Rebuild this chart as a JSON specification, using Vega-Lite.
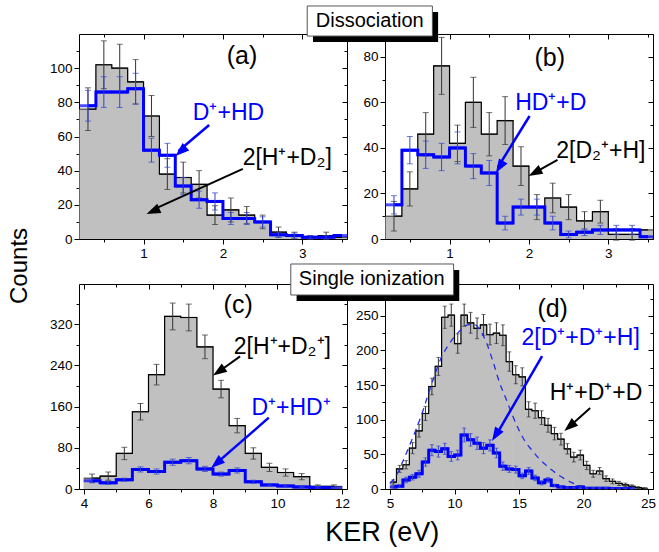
{
"$schema": "https://vega.github.io/schema/vega-lite/v6.json",
"padding": {"left": 8, "top": 5, "right": 2, "bottom": 2},
"config": {"font": "Liberation Sans", "view": {"stroke": null},
  "axis": {"grid": false, "domainColor": "#000", "tickColor": "#000", "labelColor": "#000", "labelFontSize": 13.5, "domainWidth": 1, "tickWidth": 1, "labelFont": "Liberation Sans", "labelOverlap": false, "labelFlush": false}},
"datasets": {
"a_gray": [{"x":0.3,"y":76,"e":12.5},{"x":0.5,"y":102,"e":14},{"x":0.7,"y":100,"e":14},{"x":0.9,"y":92,"e":13},{"x":1.1,"y":72,"e":12},{"x":1.3,"y":38,"e":9},{"x":1.5,"y":36,"e":9},{"x":1.7,"y":32,"e":8},{"x":1.9,"y":14,"e":5.5},{"x":2.1,"y":17,"e":7},{"x":2.3,"y":14,"e":5},{"x":2.5,"y":10,"e":4},{"x":2.7,"y":4,"e":3},{"x":2.9,"y":2,"e":2},{"x":3.1,"y":1,"e":1},{"x":3.3,"y":2,"e":2},{"x":3.5,"y":1,"e":1}],
"a_blue": [{"x":0.3,"y":78,"e":9},{"x":0.5,"y":86,"e":9},{"x":0.7,"y":86,"e":9},{"x":0.9,"y":88,"e":9},{"x":1.1,"y":52,"e":7},{"x":1.3,"y":49,"e":7},{"x":1.5,"y":31,"e":5},{"x":1.7,"y":23,"e":5},{"x":1.9,"y":22,"e":5},{"x":2.1,"y":12,"e":3.5},{"x":2.3,"y":12,"e":3.5},{"x":2.5,"y":10,"e":3},{"x":2.7,"y":2.5,"e":1.5},{"x":2.9,"y":2,"e":1.5},{"x":3.1,"y":1,"e":1},{"x":3.3,"y":1,"e":1},{"x":3.5,"y":2,"e":1}],
"b_gray": [{"x":0.3,"y":10,"e":6.5},{"x":0.5,"y":22,"e":7.5},{"x":0.7,"y":46,"e":9.5},{"x":0.9,"y":76,"e":12.5},{"x":1.1,"y":42,"e":8},{"x":1.3,"y":60,"e":11},{"x":1.5,"y":46,"e":9.5},{"x":1.7,"y":52,"e":10.5},{"x":1.9,"y":32,"e":8.5},{"x":2.1,"y":14,"e":5.5},{"x":2.3,"y":18,"e":6.5},{"x":2.5,"y":14,"e":5.5},{"x":2.7,"y":8,"e":4},{"x":2.9,"y":12,"e":5},{"x":3.1,"y":2,"e":2.5},{"x":3.3,"y":2,"e":2.5},{"x":3.5,"y":4,"e":2}],
"b_blue": [{"x":0.3,"y":15,"e":4},{"x":0.5,"y":39,"e":6},{"x":0.7,"y":37,"e":6},{"x":0.9,"y":36,"e":6},{"x":1.1,"y":40,"e":7},{"x":1.3,"y":32,"e":5.5},{"x":1.5,"y":29,"e":5.5},{"x":1.7,"y":7,"e":3},{"x":1.9,"y":14,"e":3.5},{"x":2.1,"y":14,"e":3.5},{"x":2.3,"y":7,"e":3},{"x":2.5,"y":2,"e":1.5},{"x":2.7,"y":3,"e":1.5},{"x":2.9,"y":4,"e":2},{"x":3.1,"y":4,"e":2},{"x":3.3,"y":4,"e":2},{"x":3.5,"y":1,"e":1}],
"c_gray": [{"x":4.25,"y":21,"e":8},{"x":4.75,"y":25,"e":8},{"x":5.25,"y":69,"e":12},{"x":5.75,"y":150,"e":16},{"x":6.25,"y":222,"e":20},{"x":6.75,"y":335,"e":26},{"x":7.25,"y":333,"e":26},{"x":7.75,"y":276,"e":23},{"x":8.25,"y":194,"e":17},{"x":8.75,"y":123,"e":14},{"x":9.25,"y":69,"e":11},{"x":9.75,"y":42,"e":8},{"x":10.25,"y":32,"e":7},{"x":10.75,"y":24,"e":6},{"x":11.25,"y":5,"e":3},{"x":11.75,"y":5,"e":3}],
"c_blue": [{"x":4.25,"y":16,"e":4},{"x":4.75,"y":12,"e":3},{"x":5.25,"y":18,"e":3},{"x":5.75,"y":38,"e":5},{"x":6.25,"y":34,"e":5},{"x":6.75,"y":52,"e":6},{"x":7.25,"y":55,"e":6},{"x":7.75,"y":39,"e":5},{"x":8.25,"y":29,"e":4},{"x":8.75,"y":36,"e":5},{"x":9.25,"y":14,"e":3},{"x":9.75,"y":8,"e":2},{"x":10.25,"y":6,"e":2},{"x":10.75,"y":4,"e":1.5},{"x":11.25,"y":3,"e":1.5},{"x":11.75,"y":2,"e":1}],
"d_gray": [{"x":5.25,"y":10,"e":3},{"x":5.75,"y":29,"e":5},{"x":6.25,"y":35,"e":6},{"x":6.75,"y":59,"e":8},{"x":7.25,"y":84,"e":9},{"x":7.75,"y":109,"e":10},{"x":8.25,"y":148,"e":12},{"x":8.75,"y":177,"e":13},{"x":9.25,"y":248,"e":16},{"x":9.75,"y":251,"e":16},{"x":10.25,"y":210,"e":14},{"x":10.75,"y":251,"e":16},{"x":11.25,"y":240,"e":15},{"x":11.75,"y":232,"e":15},{"x":12.25,"y":237,"e":15},{"x":12.75,"y":223,"e":15},{"x":13.25,"y":225,"e":15},{"x":13.75,"y":222,"e":15},{"x":14.25,"y":184,"e":14},{"x":14.75,"y":165,"e":13},{"x":15.25,"y":162,"e":13},{"x":15.75,"y":115,"e":11},{"x":16.25,"y":113,"e":11},{"x":16.75,"y":103,"e":10},{"x":17.25,"y":92,"e":10},{"x":17.75,"y":80,"e":9},{"x":18.25,"y":72,"e":8.5},{"x":18.75,"y":58,"e":7.5},{"x":19.25,"y":46,"e":7},{"x":19.75,"y":49,"e":7},{"x":20.25,"y":34,"e":6},{"x":20.75,"y":22,"e":5},{"x":21.25,"y":26,"e":5},{"x":21.75,"y":15,"e":4},{"x":22.25,"y":11,"e":3.5},{"x":22.75,"y":8,"e":3},{"x":23.25,"y":6,"e":2.5},{"x":23.75,"y":4,"e":2},{"x":24.25,"y":2,"e":1.5},{"x":24.75,"y":1,"e":1}],
"d_blue": [{"x":5.25,"y":3,"e":1.5},{"x":5.75,"y":4,"e":2},{"x":6.25,"y":13,"e":4},{"x":6.75,"y":17,"e":4},{"x":7.25,"y":22,"e":5},{"x":7.75,"y":39,"e":6},{"x":8.25,"y":56,"e":8},{"x":8.75,"y":54,"e":8},{"x":9.25,"y":58,"e":8},{"x":9.75,"y":47,"e":7},{"x":10.25,"y":49,"e":7},{"x":10.75,"y":78,"e":10},{"x":11.25,"y":71,"e":9},{"x":11.75,"y":66,"e":9},{"x":12.25,"y":59,"e":8},{"x":12.75,"y":63,"e":8},{"x":13.25,"y":52,"e":7},{"x":13.75,"y":33,"e":6},{"x":14.25,"y":29,"e":5},{"x":14.75,"y":28,"e":5},{"x":15.25,"y":19,"e":4},{"x":15.75,"y":26,"e":5},{"x":16.25,"y":16,"e":4},{"x":16.75,"y":9,"e":3},{"x":17.25,"y":13,"e":3.5},{"x":17.75,"y":5,"e":2},{"x":18.25,"y":3,"e":1.5},{"x":18.75,"y":2,"e":1},{"x":19.25,"y":2,"e":1},{"x":19.75,"y":3,"e":1.5},{"x":20.25,"y":1,"e":1},{"x":20.75,"y":1,"e":1},{"x":21.25,"y":1,"e":1},{"x":21.75,"y":1,"e":1},{"x":22.25,"y":0.5,"e":0.5},{"x":22.75,"y":0.5,"e":0.5},{"x":23.25,"y":0.5,"e":0.5},{"x":23.75,"y":0.5,"e":0.5}],
"d_fit": [{"x":5.0,"y":8},{"x":5.5,"y":20},{"x":6.0,"y":40},{"x":6.5,"y":62},{"x":7.0,"y":85},{"x":7.5,"y":110},{"x":8.0,"y":139},{"x":8.5,"y":166},{"x":9.0,"y":191},{"x":9.5,"y":207},{"x":10.0,"y":220},{"x":10.5,"y":230},{"x":11.0,"y":237},{"x":11.5,"y":238},{"x":12.0,"y":229},{"x":12.5,"y":210},{"x":13.0,"y":183},{"x":13.5,"y":153},{"x":14.0,"y":130},{"x":14.5,"y":106},{"x":15.0,"y":85},{"x":15.5,"y":68},{"x":16.0,"y":56},{"x":16.5,"y":45},{"x":17.0,"y":36},{"x":17.5,"y":28},{"x":18.0,"y":21},{"x":18.5,"y":15},{"x":19.0,"y":10},{"x":19.5,"y":6},{"x":20.0,"y":3},{"x":20.5,"y":1.5},{"x":21.0,"y":0.5}]
},
"columns": 2,
"spacing": {"row": 45, "column": 38},
"bounds": "flush",
"concat": [
{"width": 268, "height": 205,
 "resolve": {"axis": {"x": "independent", "y": "independent"}},
 "layer": [
  {"data": {"name": "a_gray"}, "mark": {"type": "bar", "width": 17, "color": "#c0c0c0", "clip": true},
   "encoding": {"x": {"field": "x", "type": "quantitative", "scale": {"domain": [0.25, 3.5], "nice": false, "zero": false},
      "axis": {"orient": "bottom", "title": null, "values": [0.5,1,1.5,2,2.5,3,3.5], "labelExpr": "datum.value % 1 === 0 ? format(datum.value,'d') : ''", "tickSize": {"condition": {"test": "datum.value % 1 === 0", "value": 5}, "value": 3}}},
    "y": {"field": "y", "type": "quantitative", "scale": {"domain": [0, 120], "nice": false},
      "axis": {"orient": "left", "title": null, "values": [0,10,20,30,40,50,60,70,80,90,100,110], "labelExpr": "datum.value % 20 === 0 ? format(datum.value,'d') : ''", "tickSize": {"condition": {"test": "datum.value % 20 === 0", "value": 5}, "value": 3}}}}},
  {"data": {"name": "a_gray"}, "mark": {"type": "line", "interpolate": "step", "color": "#000", "strokeWidth": 1.2, "clip": true},
   "encoding": {"x": {"field": "x", "type": "quantitative", "axis": {"orient": "top", "title": null, "labels": false, "values": [0.5,1,1.5,2,2.5,3,3.5], "tickSize": {"condition": {"test": "datum.value % 1 === 0", "value": -5}, "value": -3}}},
    "y": {"field": "y", "type": "quantitative", "axis": {"orient": "right", "title": null, "labels": false, "values": [0,10,20,30,40,50,60,70,80,90,100,110], "tickSize": {"condition": {"test": "datum.value % 20 === 0", "value": -5}, "value": -3}}}}},
  {"data": {"name": "a_gray"}, "mark": {"type": "tick", "orient": "horizontal", "size": 16.5, "thickness": 1.2, "color": "#000", "clip": true},
   "encoding": {"x": {"field": "x", "type": "quantitative", "axis": null}, "y": {"field": "y", "type": "quantitative", "axis": null}}},
  {"data": {"name": "a_gray"}, "transform": [{"filter": "datum.x < 3.45"}], "mark": {"type": "errorbar", "color": "#333", "ticks": {"size": 6}},
   "encoding": {"x": {"field": "x", "type": "quantitative", "axis": null}, "y": {"field": "y", "type": "quantitative", "axis": null}, "yError": {"field": "e"}}},
  {"data": {"name": "a_blue"}, "mark": {"type": "line", "interpolate": "step", "color": "#0000ff", "strokeWidth": 3, "clip": true},
   "encoding": {"x": {"field": "x", "type": "quantitative", "axis": null}, "y": {"field": "y", "type": "quantitative", "axis": null}}},
  {"data": {"name": "a_blue"}, "mark": {"type": "tick", "orient": "horizontal", "size": 16.5, "thickness": 3, "color": "#0000ff", "clip": true},
   "encoding": {"x": {"field": "x", "type": "quantitative", "axis": null}, "y": {"field": "y", "type": "quantitative", "axis": null}}},
  {"data": {"name": "a_blue"}, "transform": [{"filter": "datum.x < 3.45"}], "mark": {"type": "errorbar", "color": "#3344cc", "ticks": {"size": 6}},
   "encoding": {"x": {"field": "x", "type": "quantitative", "axis": null}, "y": {"field": "y", "type": "quantitative", "axis": null}, "yError": {"field": "e"}}},
  {"data": {"values": [{}]}, "mark": {"type": "text", "text": "(a)", "fontSize": 25, "align": "center", "baseline": "middle"},
   "encoding": {"x": {"datum": 2.24, "type": "quantitative", "axis": null}, "y": {"datum": 107, "type": "quantitative", "axis": null}}},
  {"data": {"values": [{}]}, "mark": {"type": "text", "text": "D⁺+HD", "fontSize": 23, "color": "#0000ff", "align": "center", "baseline": "middle"},
   "encoding": {"x": {"datum": 2.07, "type": "quantitative", "axis": null}, "y": {"datum": 73.7, "type": "quantitative", "axis": null}}},
  {"data": {"values": [{}]}, "mark": {"type": "text", "text": "2[H⁺+D₂]", "fontSize": 23, "color": "#000", "align": "center", "baseline": "middle"},
   "encoding": {"x": {"datum": 2.81, "type": "quantitative", "axis": null}, "y": {"datum": 47.4, "type": "quantitative", "axis": null}}},
  {"data": {"values": [{}]}, "mark": {"type": "rule", "color": "#0000ff", "strokeWidth": 2.5},
   "encoding": {"x": {"datum": 1.827, "type": "quantitative", "axis": null}, "y": {"datum": 66.7, "type": "quantitative", "axis": null}, "x2": {"datum": 1.44}, "y2": {"datum": 51.5}}},
  {"data": {"values": [{}]}, "mark": {"type": "point", "shape": "M0,0L-0.5,1.4L0.5,1.4Z", "filled": true, "opacity": 1, "color": "#0000ff", "size": 400, "angle": 228.5},
   "encoding": {"x": {"datum": 1.402, "type": "quantitative", "axis": null}, "y": {"datum": 48.6, "type": "quantitative", "axis": null}}},
  {"data": {"values": [{}]}, "mark": {"type": "rule", "color": "#000", "strokeWidth": 2},
   "encoding": {"x": {"datum": 2.251, "type": "quantitative", "axis": null}, "y": {"datum": 41.0, "type": "quantitative", "axis": null}, "x2": {"datum": 1.1}, "y2": {"datum": 16.8}}},
  {"data": {"values": [{}]}, "mark": {"type": "point", "shape": "M0,0L-0.5,1.4L0.5,1.4Z", "filled": true, "opacity": 1, "color": "#000", "size": 400, "angle": 245.8},
   "encoding": {"x": {"datum": 1.038, "type": "quantitative", "axis": null}, "y": {"datum": 14.6, "type": "quantitative", "axis": null}}}
 ]},
{"width": 268, "height": 205,
 "resolve": {"axis": {"x": "independent", "y": "independent"}},
 "layer": [
  {"data": {"name": "b_gray"}, "mark": {"type": "bar", "width": 17, "color": "#c0c0c0", "clip": true},
   "encoding": {"x": {"field": "x", "type": "quantitative", "scale": {"domain": [0.25, 3.5], "nice": false, "zero": false},
      "axis": {"orient": "bottom", "title": null, "values": [0.5,1,1.5,2,2.5,3,3.5], "labelExpr": "datum.value % 1 === 0 ? format(datum.value,'d') : ''", "tickSize": {"condition": {"test": "datum.value % 1 === 0", "value": 5}, "value": 3}}},
    "y": {"field": "y", "type": "quantitative", "scale": {"domain": [0, 90], "nice": false},
      "axis": {"orient": "left", "title": null, "values": [0,10,20,30,40,50,60,70,80,90], "labelExpr": "datum.value % 20 === 0 ? format(datum.value,'d') : ''", "tickSize": {"condition": {"test": "datum.value % 20 === 0", "value": 5}, "value": 3}}}}},
  {"data": {"name": "b_gray"}, "mark": {"type": "line", "interpolate": "step", "color": "#000", "strokeWidth": 1.2, "clip": true},
   "encoding": {"x": {"field": "x", "type": "quantitative", "axis": {"orient": "top", "title": null, "labels": false, "values": [0.5,1,1.5,2,2.5,3,3.5], "tickSize": {"condition": {"test": "datum.value % 1 === 0", "value": -5}, "value": -3}}},
    "y": {"field": "y", "type": "quantitative", "axis": {"orient": "right", "title": null, "labels": false, "values": [0,10,20,30,40,50,60,70,80,90], "tickSize": {"condition": {"test": "datum.value % 20 === 0", "value": -5}, "value": -3}}}}},
  {"data": {"name": "b_gray"}, "mark": {"type": "tick", "orient": "horizontal", "size": 16.5, "thickness": 1.2, "color": "#000", "clip": true},
   "encoding": {"x": {"field": "x", "type": "quantitative", "axis": null}, "y": {"field": "y", "type": "quantitative", "axis": null}}},
  {"data": {"name": "b_gray"}, "transform": [{"filter": "datum.x < 3.45"}], "mark": {"type": "errorbar", "color": "#333", "ticks": {"size": 6}},
   "encoding": {"x": {"field": "x", "type": "quantitative", "axis": null}, "y": {"field": "y", "type": "quantitative", "axis": null}, "yError": {"field": "e"}}},
  {"data": {"name": "b_blue"}, "mark": {"type": "line", "interpolate": "step", "color": "#0000ff", "strokeWidth": 3, "clip": true},
   "encoding": {"x": {"field": "x", "type": "quantitative", "axis": null}, "y": {"field": "y", "type": "quantitative", "axis": null}}},
  {"data": {"name": "b_blue"}, "mark": {"type": "tick", "orient": "horizontal", "size": 16.5, "thickness": 3, "color": "#0000ff", "clip": true},
   "encoding": {"x": {"field": "x", "type": "quantitative", "axis": null}, "y": {"field": "y", "type": "quantitative", "axis": null}}},
  {"data": {"name": "b_blue"}, "transform": [{"filter": "datum.x < 3.45"}], "mark": {"type": "errorbar", "color": "#3344cc", "ticks": {"size": 6}},
   "encoding": {"x": {"field": "x", "type": "quantitative", "axis": null}, "y": {"field": "y", "type": "quantitative", "axis": null}, "yError": {"field": "e"}}},
  {"data": {"values": [{}]}, "mark": {"type": "text", "text": "(b)", "fontSize": 25, "align": "center", "baseline": "middle"},
   "encoding": {"x": {"datum": 2.263, "type": "quantitative", "axis": null}, "y": {"datum": 79.5, "type": "quantitative", "axis": null}}},
  {"data": {"values": [{}]}, "mark": {"type": "text", "text": "HD⁺+D", "fontSize": 23, "color": "#0000ff", "align": "center", "baseline": "middle"},
   "encoding": {"x": {"datum": 2.275, "type": "quantitative", "axis": null}, "y": {"datum": 59.7, "type": "quantitative", "axis": null}}},
  {"data": {"values": [{}]}, "mark": {"type": "text", "text": "2[D₂⁺+H]", "fontSize": 23, "color": "#000", "align": "center", "baseline": "middle"},
   "encoding": {"x": {"datum": 2.906, "type": "quantitative", "axis": null}, "y": {"datum": 38.6, "type": "quantitative", "axis": null}}},
  {"data": {"values": [{}]}, "mark": {"type": "rule", "color": "#0000ff", "strokeWidth": 2.5},
   "encoding": {"x": {"datum": 2.008, "type": "quantitative", "axis": null}, "y": {"datum": 54.0, "type": "quantitative", "axis": null}, "x2": {"datum": 1.61}, "y2": {"datum": 31.5}}},
  {"data": {"values": [{}]}, "mark": {"type": "point", "shape": "M0,0L-0.5,1.4L0.5,1.4Z", "filled": true, "opacity": 1, "color": "#0000ff", "size": 400, "angle": 211.5},
   "encoding": {"x": {"datum": 1.584, "type": "quantitative", "axis": null}, "y": {"datum": 29.0, "type": "quantitative", "axis": null}}},
  {"data": {"values": [{}]}, "mark": {"type": "rule", "color": "#000", "strokeWidth": 2},
   "encoding": {"x": {"datum": 2.36, "type": "quantitative", "axis": null}, "y": {"datum": 34.7, "type": "quantitative", "axis": null}, "x2": {"datum": 2.05}, "y2": {"datum": 28.7}}},
  {"data": {"values": [{}]}, "mark": {"type": "point", "shape": "M0,0L-0.5,1.4L0.5,1.4Z", "filled": true, "opacity": 1, "color": "#000", "size": 400, "angle": 242},
   "encoding": {"x": {"datum": 1.996, "type": "quantitative", "axis": null}, "y": {"datum": 27.7, "type": "quantitative", "axis": null}}},
  {"data": {"values": [{}]}, "mark": {"type": "rect", "color": "#000"},
   "encoding": {"x": {"datum": -0.72, "type": "quantitative", "axis": null}, "x2": {"datum": 0.856}, "y": {"datum": 99.7, "type": "quantitative", "axis": null}, "y2": {"datum": 86.5}}},
  {"data": {"values": [{}]}, "mark": {"type": "rect", "fill": "#fff", "stroke": "#555", "strokeWidth": 1},
   "encoding": {"x": {"datum": -0.793, "type": "quantitative", "axis": null}, "x2": {"datum": 0.784}, "y": {"datum": 102.3, "type": "quantitative", "axis": null}, "y2": {"datum": 89.1}}},
  {"data": {"values": [{}]}, "mark": {"type": "text", "text": "Dissociation", "fontSize": 20, "align": "center", "baseline": "middle"},
   "encoding": {"x": {"datum": -0.005, "type": "quantitative", "axis": null}, "y": {"datum": 95.7, "type": "quantitative", "axis": null}}}
 ]},
{"width": 268, "height": 205,
 "resolve": {"axis": {"x": "independent", "y": "independent"}},
 "layer": [
  {"data": {"name": "c_gray"}, "mark": {"type": "bar", "width": 17.2, "color": "#c0c0c0", "clip": true},
   "encoding": {"x": {"field": "x", "type": "quantitative", "scale": {"domain": [4, 12], "nice": false, "zero": false},
      "axis": {"orient": "bottom", "title": null, "values": [4,5,6,7,8,9,10,11,12], "labelExpr": "datum.value % 2 === 0 ? format(datum.value,'d') : ''", "tickSize": {"condition": {"test": "datum.value % 2 === 0", "value": 5}, "value": 3}}},
    "y": {"field": "y", "type": "quantitative", "scale": {"domain": [0, 398], "nice": false},
      "axis": {"orient": "left", "title": null, "values": [0,40,80,120,160,200,240,280,320,360], "labelExpr": "datum.value % 80 === 0 ? format(datum.value,'d') : ''", "tickSize": {"condition": {"test": "datum.value % 80 === 0", "value": 5}, "value": 3}}}}},
  {"data": {"name": "c_gray"}, "mark": {"type": "line", "interpolate": "step", "color": "#000", "strokeWidth": 1.2, "clip": true},
   "encoding": {"x": {"field": "x", "type": "quantitative", "axis": {"orient": "top", "title": null, "labels": false, "values": [4,5,6,7,8,9,10,11,12], "tickSize": {"condition": {"test": "datum.value % 2 === 0", "value": -5}, "value": -3}}},
    "y": {"field": "y", "type": "quantitative", "axis": {"orient": "right", "title": null, "labels": false, "values": [0,40,80,120,160,200,240,280,320,360], "tickSize": {"condition": {"test": "datum.value % 80 === 0", "value": -5}, "value": -3}}}}},
  {"data": {"name": "c_gray"}, "mark": {"type": "tick", "orient": "horizontal", "size": 16.75, "thickness": 1.2, "color": "#000", "clip": true},
   "encoding": {"x": {"field": "x", "type": "quantitative", "axis": null}, "y": {"field": "y", "type": "quantitative", "axis": null}}},
  {"data": {"name": "c_gray"}, "mark": {"type": "errorbar", "color": "#333", "ticks": {"size": 6}},
   "encoding": {"x": {"field": "x", "type": "quantitative", "axis": null}, "y": {"field": "y", "type": "quantitative", "axis": null}, "yError": {"field": "e"}}},
  {"data": {"name": "c_blue"}, "mark": {"type": "line", "interpolate": "step", "color": "#0000ff", "strokeWidth": 3, "clip": true},
   "encoding": {"x": {"field": "x", "type": "quantitative", "axis": null}, "y": {"field": "y", "type": "quantitative", "axis": null}}},
  {"data": {"name": "c_blue"}, "mark": {"type": "tick", "orient": "horizontal", "size": 16.75, "thickness": 3, "color": "#0000ff", "clip": true},
   "encoding": {"x": {"field": "x", "type": "quantitative", "axis": null}, "y": {"field": "y", "type": "quantitative", "axis": null}}},
  {"data": {"name": "c_blue"}, "mark": {"type": "errorbar", "color": "#3344cc", "ticks": {"size": 6}},
   "encoding": {"x": {"field": "x", "type": "quantitative", "axis": null}, "y": {"field": "y", "type": "quantitative", "axis": null}, "yError": {"field": "e"}}},
  {"data": {"values": [{}]}, "mark": {"type": "text", "text": "(c)", "fontSize": 25, "align": "center", "baseline": "middle"},
   "encoding": {"x": {"datum": 8.78, "type": "quantitative", "axis": null}, "y": {"datum": 357, "type": "quantitative", "axis": null}}},
  {"data": {"values": [{}]}, "mark": {"type": "text", "text": "2[H⁺+D₂⁺]", "fontSize": 23, "color": "#000", "align": "center", "baseline": "middle"},
   "encoding": {"x": {"datum": 10.15, "type": "quantitative", "axis": null}, "y": {"datum": 275, "type": "quantitative", "axis": null}}},
  {"data": {"values": [{}]}, "mark": {"type": "text", "text": "D⁺+HD⁺", "fontSize": 23, "color": "#0000ff", "align": "center", "baseline": "middle"},
   "encoding": {"x": {"datum": 10.42, "type": "quantitative", "axis": null}, "y": {"datum": 158, "type": "quantitative", "axis": null}}},
  {"data": {"values": [{}]}, "mark": {"type": "rule", "color": "#000", "strokeWidth": 2},
   "encoding": {"x": {"datum": 8.84, "type": "quantitative", "axis": null}, "y": {"datum": 257.6, "type": "quantitative", "axis": null}, "x2": {"datum": 8.25}, "y2": {"datum": 231}}},
  {"data": {"values": [{}]}, "mark": {"type": "point", "shape": "M0,0L-0.5,1.4L0.5,1.4Z", "filled": true, "opacity": 1, "color": "#000", "size": 400, "angle": 235.9},
   "encoding": {"x": {"datum": 8.0, "type": "quantitative", "axis": null}, "y": {"datum": 220.5, "type": "quantitative", "axis": null}}},
  {"data": {"values": [{}]}, "mark": {"type": "rule", "color": "#0000ff", "strokeWidth": 2.5},
   "encoding": {"x": {"datum": 9.73, "type": "quantitative", "axis": null}, "y": {"datum": 138.5, "type": "quantitative", "axis": null}, "x2": {"datum": 8.2}, "y2": {"datum": 55}}},
  {"data": {"values": [{}]}, "mark": {"type": "point", "shape": "M0,0L-0.5,1.4L0.5,1.4Z", "filled": true, "opacity": 1, "color": "#0000ff", "size": 400, "angle": 230.2},
   "encoding": {"x": {"datum": 7.94, "type": "quantitative", "axis": null}, "y": {"datum": 41, "type": "quantitative", "axis": null}}},
  {"data": {"values": [{}]}, "mark": {"type": "text", "text": "Counts", "fontSize": 24, "angle": 270, "align": "center", "baseline": "middle"},
   "encoding": {"x": {"datum": 2.03, "type": "quantitative", "axis": null}, "y": {"datum": 433, "type": "quantitative", "axis": null}}}
 ]},
{"width": 268, "height": 205,
 "resolve": {"axis": {"x": "independent", "y": "independent"}},
 "layer": [
  {"data": {"name": "d_gray"}, "mark": {"type": "bar", "width": 7.1, "color": "#c0c0c0", "clip": true},
   "encoding": {"x": {"field": "x", "type": "quantitative", "scale": {"domain": [5, 25], "nice": false, "zero": false},
      "axis": {"orient": "bottom", "title": null, "values": [5,7.5,10,12.5,15,17.5,20,22.5,25], "labelExpr": "datum.value % 5 === 0 ? format(datum.value,'d') : ''", "tickSize": {"condition": {"test": "datum.value % 5 === 0", "value": 5}, "value": 3}}},
    "y": {"field": "y", "type": "quantitative", "scale": {"domain": [0, 296], "nice": false},
      "axis": {"orient": "left", "title": null, "values": [0,25,50,75,100,125,150,175,200,225,250,275], "labelExpr": "datum.value % 50 === 0 ? format(datum.value,'d') : ''", "tickSize": {"condition": {"test": "datum.value % 50 === 0", "value": 5}, "value": 3}}}}},
  {"data": {"name": "d_gray"}, "mark": {"type": "line", "interpolate": "step", "color": "#000", "strokeWidth": 1.2, "clip": true},
   "encoding": {"x": {"field": "x", "type": "quantitative", "axis": {"orient": "top", "title": null, "labels": false, "values": [5,7.5,10,12.5,15,17.5,20,22.5,25], "tickSize": {"condition": {"test": "datum.value % 5 === 0", "value": -5}, "value": -3}}},
    "y": {"field": "y", "type": "quantitative", "axis": {"orient": "right", "title": null, "labels": false, "values": [0,25,50,75,100,125,150,175,200,225,250,275], "tickSize": {"condition": {"test": "datum.value % 50 === 0", "value": -5}, "value": -3}}}}},
  {"data": {"name": "d_gray"}, "mark": {"type": "tick", "orient": "horizontal", "size": 6.7, "thickness": 1.2, "color": "#000", "clip": true},
   "encoding": {"x": {"field": "x", "type": "quantitative", "axis": null}, "y": {"field": "y", "type": "quantitative", "axis": null}}},
  {"data": {"name": "d_gray"}, "mark": {"type": "errorbar", "color": "#333", "ticks": {"size": 4}},
   "encoding": {"x": {"field": "x", "type": "quantitative", "axis": null}, "y": {"field": "y", "type": "quantitative", "axis": null}, "yError": {"field": "e"}}},
  {"data": {"name": "d_fit"}, "mark": {"type": "line", "interpolate": "monotone", "color": "#1f2fe0", "strokeWidth": 1.3, "strokeDash": [6, 5], "clip": true},
   "encoding": {"x": {"field": "x", "type": "quantitative", "axis": null}, "y": {"field": "y", "type": "quantitative", "axis": null}}},
  {"data": {"name": "d_blue"}, "mark": {"type": "line", "interpolate": "step", "color": "#0000ff", "strokeWidth": 3, "clip": true},
   "encoding": {"x": {"field": "x", "type": "quantitative", "axis": null}, "y": {"field": "y", "type": "quantitative", "axis": null}}},
  {"data": {"name": "d_blue"}, "mark": {"type": "tick", "orient": "horizontal", "size": 6.7, "thickness": 3, "color": "#0000ff", "clip": true},
   "encoding": {"x": {"field": "x", "type": "quantitative", "axis": null}, "y": {"field": "y", "type": "quantitative", "axis": null}}},
  {"data": {"name": "d_blue"}, "mark": {"type": "errorbar", "color": "#3344cc", "ticks": {"size": 4}},
   "encoding": {"x": {"field": "x", "type": "quantitative", "axis": null}, "y": {"field": "y", "type": "quantitative", "axis": null}, "yError": {"field": "e"}}},
  {"data": {"values": [{}]}, "mark": {"type": "text", "text": "(d)", "fontSize": 25, "align": "center", "baseline": "middle"},
   "encoding": {"x": {"datum": 17.61, "type": "quantitative", "axis": null}, "y": {"datum": 260, "type": "quantitative", "axis": null}}},
  {"data": {"values": [{}]}, "mark": {"type": "text", "text": "2[D⁺+D⁺+H]", "fontSize": 23, "color": "#0000ff", "align": "center", "baseline": "middle"},
   "encoding": {"x": {"datum": 19.78, "type": "quantitative", "axis": null}, "y": {"datum": 218, "type": "quantitative", "axis": null}}},
  {"data": {"values": [{}]}, "mark": {"type": "text", "text": "H⁺+D⁺+D", "fontSize": 23, "color": "#000", "align": "center", "baseline": "middle"},
   "encoding": {"x": {"datum": 20.97, "type": "quantitative", "axis": null}, "y": {"datum": 138.6, "type": "quantitative", "axis": null}}},
  {"data": {"values": [{}]}, "mark": {"type": "rule", "color": "#0000ff", "strokeWidth": 2.5},
   "encoding": {"x": {"datum": 16.79, "type": "quantitative", "axis": null}, "y": {"datum": 192, "type": "quantitative", "axis": null}, "x2": {"datum": 13.3}, "y2": {"datum": 80}}},
  {"data": {"values": [{}]}, "mark": {"type": "point", "shape": "M0,0L-0.5,1.4L0.5,1.4Z", "filled": true, "opacity": 1, "color": "#0000ff", "size": 400, "angle": 211.5},
   "encoding": {"x": {"datum": 12.91, "type": "quantitative", "axis": null}, "y": {"datum": 69.3, "type": "quantitative", "axis": null}}},
  {"data": {"values": [{}]}, "mark": {"type": "rule", "color": "#000", "strokeWidth": 2},
   "encoding": {"x": {"datum": 20.52, "type": "quantitative", "axis": null}, "y": {"datum": 117, "type": "quantitative", "axis": null}, "x2": {"datum": 19.2}, "y2": {"datum": 95}}},
  {"data": {"values": [{}]}, "mark": {"type": "point", "shape": "M0,0L-0.5,1.4L0.5,1.4Z", "filled": true, "opacity": 1, "color": "#000", "size": 400, "angle": 229.6},
   "encoding": {"x": {"datum": 18.51, "type": "quantitative", "axis": null}, "y": {"datum": 83.8, "type": "quantitative", "axis": null}}},
  {"data": {"values": [{}]}, "mark": {"type": "rect", "color": "#000"},
   "encoding": {"x": {"datum": -2.24, "type": "quantitative", "axis": null}, "x2": {"datum": 10.37}, "y": {"datum": 316.2, "type": "quantitative", "axis": null}, "y2": {"datum": 271.5}}},
  {"data": {"values": [{}]}, "mark": {"type": "rect", "fill": "#fff", "stroke": "#555", "strokeWidth": 1},
   "encoding": {"x": {"datum": -2.69, "type": "quantitative", "axis": null}, "x2": {"datum": 9.93}, "y": {"datum": 324.9, "type": "quantitative", "axis": null}, "y2": {"datum": 280.1}}},
  {"data": {"values": [{}]}, "mark": {"type": "text", "text": "Single ionization", "fontSize": 20, "align": "center", "baseline": "middle"},
   "encoding": {"x": {"datum": 3.58, "type": "quantitative", "axis": null}, "y": {"datum": 303.2, "type": "quantitative", "axis": null}}},
  {"data": {"values": [{}]}, "mark": {"type": "text", "text": "KER (eV)", "fontSize": 27, "align": "center", "baseline": "middle"},
   "encoding": {"x": {"datum": 4.4, "type": "quantitative", "axis": null}, "y": {"datum": -63.5, "type": "quantitative", "axis": null}}}
 ]}
]
}
